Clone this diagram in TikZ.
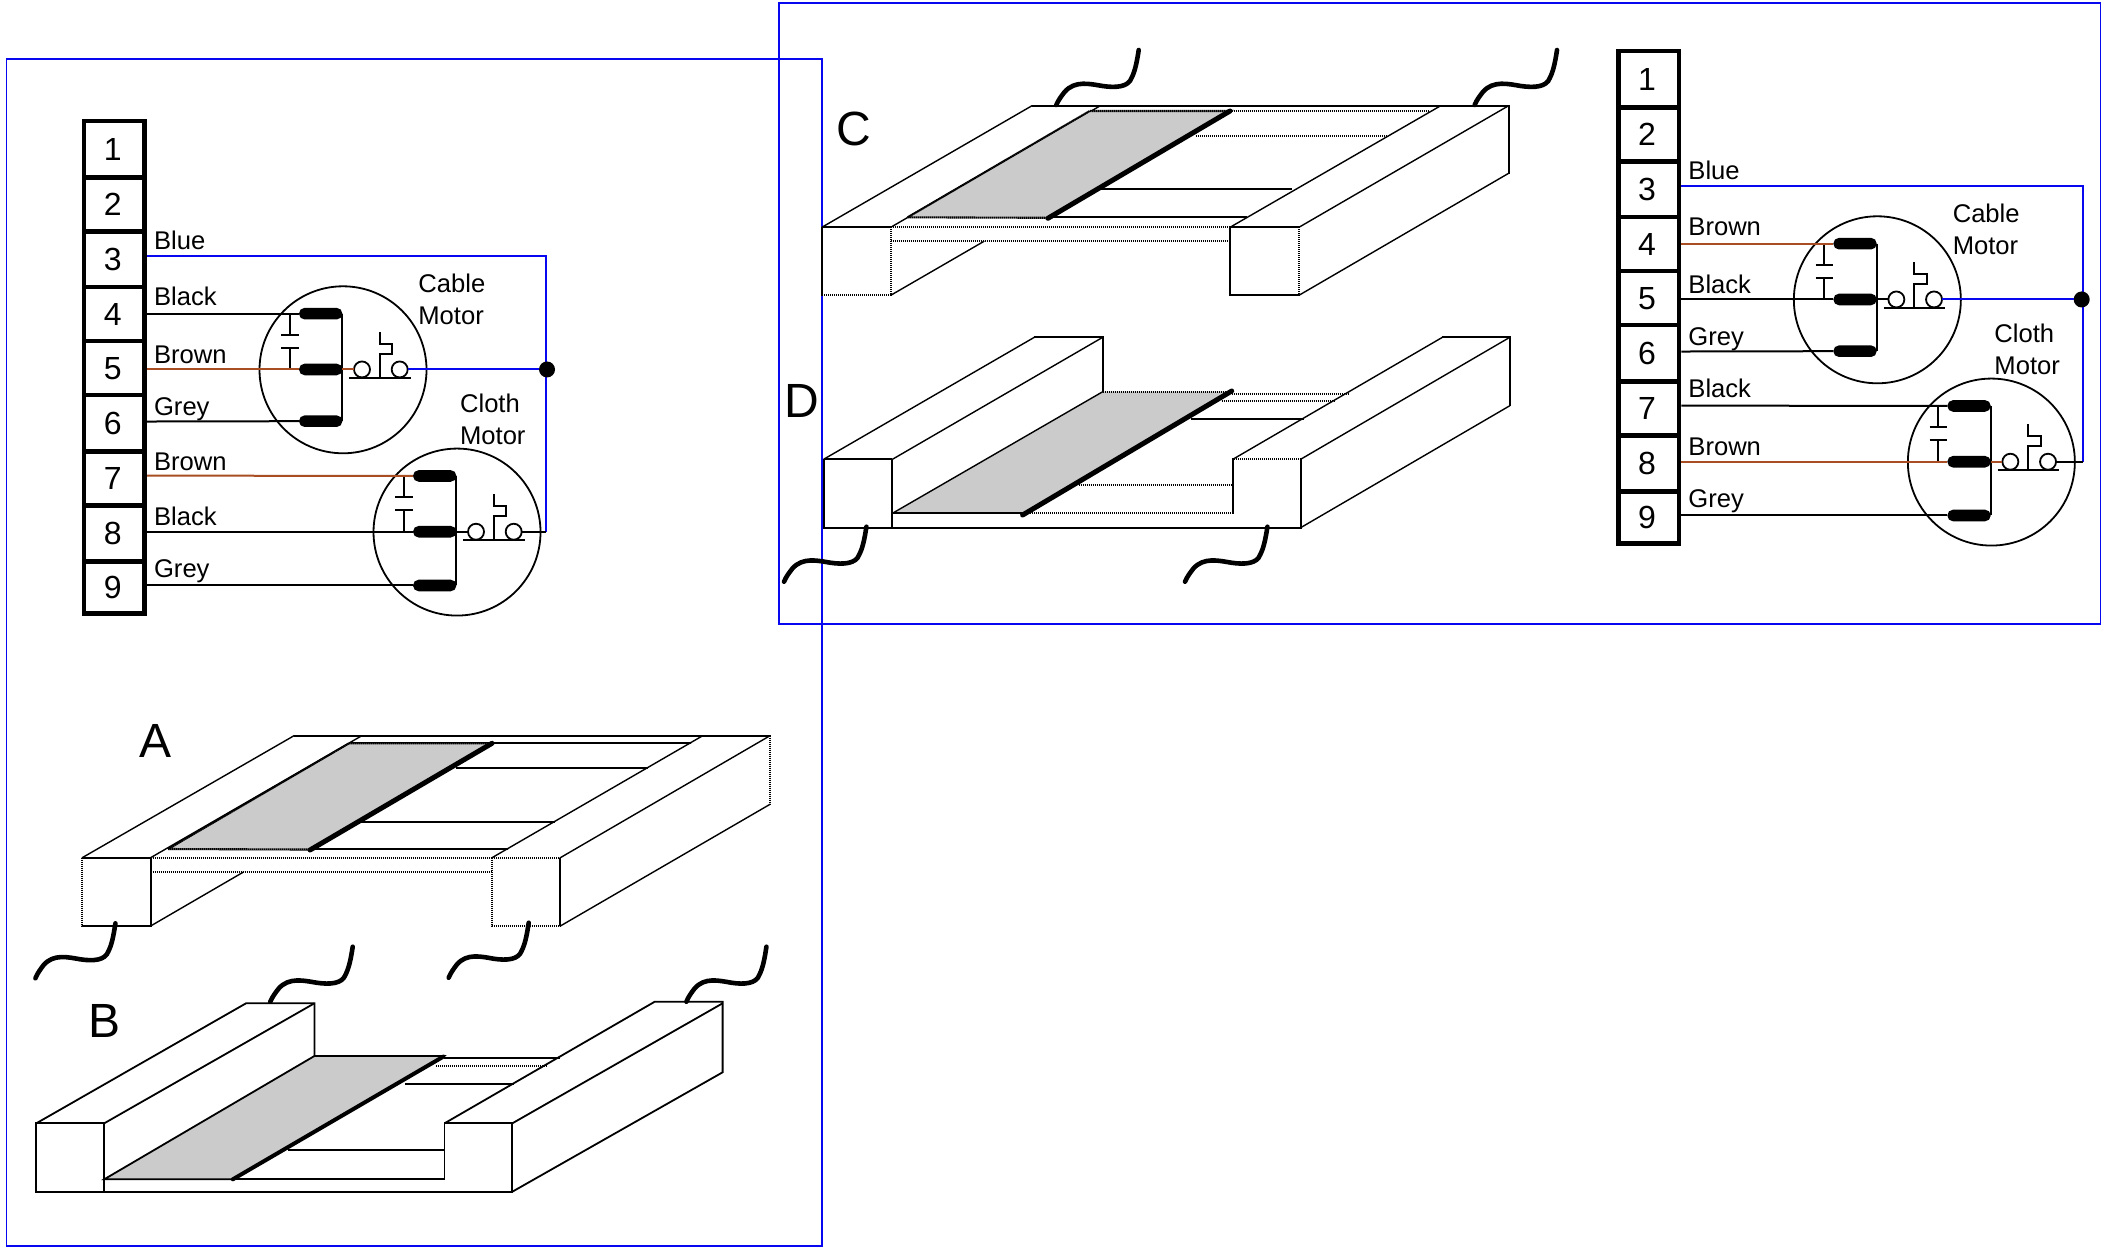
\documentclass[tikz,border=0pt]{standalone}
\usepackage{fontspec}
\setmainfont{Liberation Sans}
\definecolor{wbrown}{HTML}{A84E22}
\definecolor{fblue}{HTML}{0808F0}
\definecolor{sheetgrey}{HTML}{CBCBCB}
\tikzset{
  framebox/.style={draw=fblue,line width=.95pt},
  dotline/.style={line width=1.05pt,dash pattern=on .8pt off .2pt},
  diag/.style={line width=.7pt,line cap=round},
  solidline/.style={line width=.9pt,line join=miter},
  sheetdot/.style={fill=sheetgrey,draw=black,line width=1.05pt,dash pattern=on .8pt off .2pt},
  sheetsolid/.style={fill=sheetgrey,draw=black,line width=.9pt},
  thickedge/.style={line width=2.5pt,line cap=round},
  squig/.style={line width=2.3pt,line cap=round},
  cellbox/.style={draw=black,line width=2.25pt,minimum width=30.33pt,inner sep=0pt,outer sep=0pt,
     font=\fontsize{16}{18}\selectfont,text depth=0pt},
  lab/.style={inner sep=0pt,anchor=base west,font=\fontsize{12.8}{15}\selectfont},
  biglab/.style={inner sep=0pt,anchor=base,font=\fontsize{24}{28}\selectfont},
  wire/.style={line width=1pt},
  bluewire/.style={line width=1pt,draw=fblue},
  motorring/.style={circle,draw=black,line width=.9pt,minimum size=83.5pt,inner sep=0pt,outer sep=0pt},
  contactbar/.style={fill=black,rounded corners=2.8pt,minimum width=21.67pt,minimum height=5.8pt,inner sep=0pt,outer sep=0pt},
  swring/.style={circle,draw=black,fill=white,line width=.9pt,minimum size=8pt,inner sep=0pt,outer sep=0pt},
  junction/.style={circle,fill=black,minimum size=8pt,inner sep=0pt,outer sep=0pt}
}
\newcommand{\squiggle}[3]{% top end x, y, scale in x
  \draw[squig,shift={(#1,#2)},xscale=#3] (0,0) .. controls (-2,14) and (-4,22) .. (-7,28)
     .. controls (-10,37) and (-22,38) .. (-35,36)
     .. controls (-47,34) and (-62,30) .. (-72,42)
     .. controls (-75,46) and (-78,50) .. (-80,55);}
\newcommand{\termblock}[1]{%
  \foreach \i/\yc/\h in {1/145.5/167,2/309/160,3/471/164,4/633/160,5/793/160,6/956/166,7/1119/160,8/1282/166,9/1442/155}{
    \node[cellbox,minimum height={\h*.16903pt}] (#1t\i) at (163,\yc) {\kern-1.6pt\i};
  }}
\newcommand{\motor}[3]{% prefix, y of lowest contact, colour of lead to switch
  \node[motorring] (#1ring) at (849,798) {};
  \node[contactbar] (#1c1) at (782,632) {};
  \node[contactbar] (#1c2) at (782,797) {};
  \node[contactbar] (#1c3) at (782,#2) {};
  \draw[wire] (#1c1.east) -- (#1c3.east);
  \draw[wire] (690,632) -- (690,694) (664,694) -- (717,694) (664,733) -- (717,733) (690,733) -- (690,797);
  \node[swring] (#1s1) at (906,797) {};
  \node[swring] (#1s2) at (1019,797) {};
  \draw[wire,draw=#3] (#1c2.east) -- (#1s1.west);
  \draw[wire] (868,821) -- (1052,821) (959,821) -- (959,750) -- (997,750) -- (997,722) -- (959,722) -- (959,685);
}
\begin{document}
\begin{tikzpicture}[x=.5pt,y=-.5pt]
\useasboundingbox (0,0) rectangle (2112,1249);
\fill[white] (0,0) rectangle (2112,1249);
% frames
\draw[framebox] (6.5,59) rectangle (822,1246);
\draw[framebox] (778.7,3) rectangle (2100.5,624);

% ------------------ left wiring
\begin{scope}[shift={(60,100)},x=.16667pt,y=-.16903pt]
  \coordinate (Lb3) at (300,460);
  \coordinate (Lb4) at (300,632);
  \coordinate (Lb5) at (300,797);
  \coordinate (Lb6) at (300,951);
  \coordinate (Lb7) at (300,1111);
  \coordinate (Lb8) at (300,1277);
  \coordinate (Lb9) at (300,1436);
  \coordinate (Lend) at (1459,1277);
  \begin{scope}
    \motor{LA}{950}{wbrown}
  \end{scope}
  \begin{scope}[shift={(342,480)}]
    \motor{LB}{956}{black}
  \end{scope}
  \draw[bluewire] (Lb3 -| 261,0) -| (Lend);
  \draw[wire] (Lb4 -| 261,0) -- (LAc1.west);
  \draw[wire,draw=wbrown] (Lb5 -| 261,0) -- (LAc2.west);
  \draw[wire] (Lb6 -| 261,0) -- (LAc3.west);
  \draw[wire,draw=wbrown] (Lb7 -| 261,0) -- (LBc1.west);
  \draw[wire] (Lb8 -| 261,0) -- (LBc2.west);
  \draw[wire] (Lb9 -| 261,0) -- (LBc3.west);
  \node[junction] (Ldot) at (1461,797) {};
  \draw[bluewire] (LAs2.east) -- (Ldot);
  \draw[wire] (LBs2.east) -- (Lend);
  \termblock{L}
  \node[lab] (Ll3) at (281,443) {Blue};
  \node[lab] (Ll4) at (281,608) {Black};
  \node[lab] (Ll5) at (281,780) {Brown};
  \node[lab] (Ll6) at (281,933) {Grey};
  \node[lab] (Ll7) at (281,1095) {Brown};
  \node[lab] (Ll8) at (281,1258) {Black};
  \node[lab] (Ll9) at (281,1413) {Grey};
  \node[lab] (Lm1) at (1074,568) {Cable};
  \node[lab] (Lm2) at (1074,663) {Motor};
  \node[lab] (Lm3) at (1199,923) {Cloth};
  \node[lab] (Lm4) at (1199,1018) {Motor};
\end{scope}

% ------------------ right wiring
\begin{scope}[shift={(1594.33,30)},x=.16667pt,y=-.16903pt]
  \coordinate (Rb3) at (300,460);
  \coordinate (Rb4) at (300,632);
  \coordinate (Rb5) at (300,797);
  \coordinate (Rb6) at (300,951);
  \coordinate (Rb7) at (300,1111);
  \coordinate (Rb8) at (300,1277);
  \coordinate (Rb9) at (300,1436);
  \coordinate (Rend) at (1465,1277);
  \begin{scope}
    \motor{RA}{950}{black}
  \end{scope}
  \begin{scope}[shift={(342,480)}]
    \motor{RB}{956}{wbrown}
  \end{scope}
  \draw[bluewire] (Rb3 -| 261,0) -| (Rend);
  \draw[wire,draw=wbrown] (Rb4 -| 261,0) -- (RAc1.west);
  \draw[wire] (Rb5 -| 261,0) -- (RAc2.west);
  \draw[wire] (Rb6 -| 261,0) -- (RAc3.west);
  \draw[wire] (Rb7 -| 261,0) -- (RBc1.west);
  \draw[wire,draw=wbrown] (Rb8 -| 261,0) -- (RBc2.west);
  \draw[wire] (Rb9 -| 261,0) -- (RBc3.west);
  \node[junction] (Rdot) at (1462,797) {};
  \draw[bluewire] (RAs2.east) -- (Rdot);
  \draw[wire] (RBs2.east) -- (Rend);
  \termblock{R}
  \node[lab] (Rl3) at (281,443) {Blue};
  \node[lab] (Rl4) at (281,608) {Brown};
  \node[lab] (Rl5) at (281,780) {Black};
  \node[lab] (Rl6) at (281,933) {Grey};
  \node[lab] (Rl7) at (281,1088) {Black};
  \node[lab] (Rl8) at (281,1258) {Brown};
  \node[lab] (Rl9) at (281,1413) {Grey};
  \node[lab] (Rm1) at (1074,568) {Cable};
  \node[lab] (Rm2) at (1074,663) {Motor};
  \node[lab] (Rm3) at (1199,923) {Cloth};
  \node[lab] (Rm4) at (1199,1018) {Motor};
\end{scope}

% ------------------ A
\draw[dotline] (82.2,857.7) rectangle (150.6,926);
\draw[dotline] (492,857.7) rectangle (560.3,926);
\draw[dotline] (150.6,857.7) -- (492,857.7) (150.6,871.7) -- (492,871.7);
\draw[dotline] (294,735.7) -- (770,735.7) -- (770,804.3);
\draw[diag] (82.2,857.7) -- (294,735.7) (150.6,857.7) -- (361.8,735.7) (492,857.7) -- (702.7,735.7) (560.3,857.7) -- (770,735.7) (560.3,926) -- (770,804.3) (150.6,926) -- (243.5,872);
\draw[dotline] (349,743.3) -- (691,743.3) (456,767.7) -- (647.5,767.7) (359,821.7) -- (554.7,821.7) (310,849.3) -- (508,849.3);
\draw[sheetdot] (168,849) -- (310,849.5) -- (492,743.3) -- (349,743.3) -- cycle;
\draw[thickedge] (310,850) -- (492,743.3);
\node[biglab] (labA) at (156,757.7) {A};

% ------------------ B
\draw[solidline] (36.3,1123.3) rectangle (104.2,1191.7);
\draw[solidline] (104.2,1191.7) -- (512.3,1191.7) -- (512.3,1123.3) -- (444.5,1123.3) -- (444.5,1179.3) -- (104.2,1179.3);
\draw[solidline] (36.3,1123.3) -- (246,1003.3) -- (314.4,1003.3) -- (314.4,1056);
\draw[solidline] (104.2,1123.3) -- (314.4,1003.3);
\draw[solidline] (444.5,1123.3) -- (654.7,1001.7) -- (722.6,1001.7) -- (722.6,1072.3) -- (512.3,1191.7);
\draw[solidline] (512.3,1123.3) -- (722.6,1003.3);
\draw[solidline] (443.5,1057.7) -- (559.8,1057.7);
\draw[dotline] (435.8,1065.7) -- (546.5,1065.7) (405,1084) -- (514,1084) (287.9,1150) -- (444.5,1150);
\draw[sheetsolid] (104.2,1179.3) -- (232.8,1179.3) -- (443.5,1056) -- (314.4,1056) -- cycle;
\draw[thickedge,line width=2pt] (232.8,1179.3) -- (443.5,1056.5);
\node[biglab] (labB) at (104.4,1037) {B};

% ------------------ C
\draw[dotline] (821.8,227.3) rectangle (890.7,295.3);
\draw[dotline] (1230,227.3) rectangle (1298.9,295.3);
\draw[dotline] (890.7,227.3) -- (1230,227.3) (890.7,241.3) -- (1230,241.3);
\draw[dotline] (1032,105.7) -- (1508.6,105.7) -- (1508.6,173.3);
\draw[diag] (821.8,227.3) -- (1032,105.7) (890.7,227.3) -- (1100.4,105.7) (1230,227.3) -- (1440.7,105.7) (1298.9,227.3) -- (1508.6,105.7) (1298.9,295.3) -- (1508.6,173.3) (890.7,295.3) -- (984,241.3);
\draw[dotline] (1089.7,111) -- (1427.9,111) (1195.8,135.7) -- (1387,135.7) (1101.4,189.3) -- (1291.7,189.3) (1047.9,217.3) -- (1246.8,217.3);
\draw[sheetdot] (907.6,217.3) -- (1047.9,217.8) -- (1230,111) -- (1089.7,111) -- cycle;
\draw[thickedge] (1047.9,218.3) -- (1230,111);
\node[biglab] (labC) at (853.5,145) {C};

% ------------------ D
\draw[dotline] (823.6,459.3) rectangle (892.4,527.7);
\draw[dotline] (892.4,527.7) -- (1300.6,527.7) -- (1300.6,459.3) -- (1232.8,459.3) -- (1232.8,513.3) -- (892.4,513.3);
\draw[diag] (823.6,459.3) -- (1034.3,337.3) (892.4,459.3) -- (1102.7,337.3);
\draw[dotline] (1034.3,337.3) -- (1102.7,337.3) -- (1102.7,391.7);
\draw[diag] (1232.8,459.3) -- (1442.4,337.3) (1300.6,459.3) -- (1509.8,337.3) (1300.6,527.7) -- (1509.8,405.7);
\draw[dotline] (1442.4,337.3) -- (1509.8,337.3) -- (1509.8,405.7);
\draw[dotline] (1231.7,394) -- (1348,394) (1221.5,401.3) -- (1333.8,401.3) (1190.9,419.3) -- (1303,419.3) (1078.7,485.3) -- (1232.8,485.3);
\fill[sheetgrey] (892.4,513.3) -- (1022.6,514) -- (1231.7,391.7) -- (1102.7,391.7) -- cycle;
\draw[diag] (892.4,513.3) -- (1102.7,391.7);
\draw[dotline] (1102.7,391.7) -- (1231.7,391.7) (892.4,513.3) -- (1022.6,513.3);
\draw[thickedge] (1022.6,515) -- (1231.7,391);
\node[biglab] (labD) at (802,417.3) {D};

% squiggles
\squiggle{115.4}{923.3}{1}
\squiggle{528.7}{922.7}{1}
\squiggle{352.7}{946.7}{1.03}
\squiggle{766.4}{946.7}{1}
\squiggle{1138.7}{50}{1.03}
\squiggle{1557}{50}{1.03}
\squiggle{866.4}{526.7}{1.03}
\squiggle{1267.4}{526.7}{1.03}
\end{tikzpicture}
\end{document}
